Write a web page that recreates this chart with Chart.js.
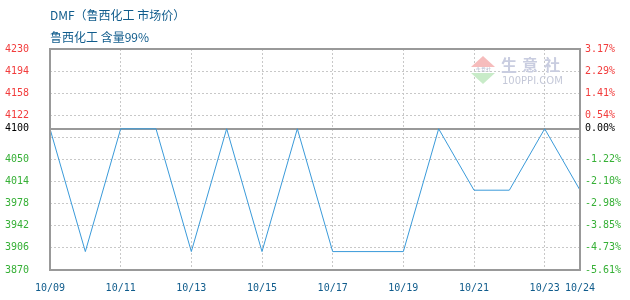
<!DOCTYPE html>
<html>
<head>
<meta charset="utf-8">
<script src="https://cdn.jsdelivr.net/npm/chart.js@4/dist/chart.umd.min.js"></script>
<style>
  html, body { margin: 0; padding: 0; background: #fff; }
  #wrap { width: 630px; height: 300px; position: relative; }
</style>
</head>
<body>
<div id="wrap"><canvas id="priceChart"></canvas></div>
<script>
// data
const dates = ['10/09', '10/10', '10/11', '10/12', '10/13', '10/14', '10/15', '10/16',
               '10/17', '10/18', '10/19', '10/20', '10/21', '10/22', '10/23', '10/24'];
const prices = [4100, 3900, 4100, 4100, 3900, 4100, 3900, 4100,
                3900, 3900, 3900, 4100, 4000, 4000, 4100, 4000];
const shownDates = ['10/09', '10/11', '10/13', '10/15', '10/17', '10/19', '10/21', '10/23', '10/24'];
const gridDates = ['10/11', '10/13', '10/15', '10/17', '10/19', '10/21', '10/23'];
const yTicks = [3870, 3906, 3942, 3978, 4014, 4050, 4086, 4100, 4122, 4158, 4194, 4230];
const hiddenTicks = [4086];
const basePrice = 4100;
const titleLine1 = 'DMF（鲁西化工 市场价）';
const titleLine2 = '鲁西化工 含量99%';

const RED = '#f23c3c';
const GREEN = '#36b036';
const BLUE_TEXT = '#105c8c';
const MONO = '"DejaVu Sans Mono", monospace';

function tickColor(ctx) {
  const v = ctx.tick ? ctx.tick.value : 0;
  if (v > basePrice) return RED;
  if (v < basePrice) return GREEN;
  return '#000';
}

function setTicks(scale) {
  scale.ticks = yTicks.map(v => ({ value: v }));
}

// title, watermark, frame and base line
const decor = {
  id: 'decor',
  beforeDatasetsDraw(chart) {
    const c = chart.ctx;
    const a = chart.chartArea;
    c.save();
    // watermark
    c.fillStyle = '#f6bcbc';
    c.beginPath();
    c.moveTo(483, 56); c.lineTo(495, 67); c.lineTo(471, 67); c.closePath(); c.fill();
    c.fillStyle = '#c8ebc8';
    c.beginPath();
    c.moveTo(471, 73); c.lineTo(495, 73); c.lineTo(483, 84); c.closePath(); c.fill();
    c.fillStyle = '#aab0c8';
    c.font = '5px sans-serif';
    c.textAlign = 'center';
    c.textBaseline = 'middle';
    c.fillText('生意社', 483, 70);
    c.fillStyle = '#c9cde0';
    c.font = 'bold 16px "Noto Sans CJK SC"';
    c.textAlign = 'left';
    c.fillText('生', 501, 65);
    c.fillText('意', 522, 65);
    c.fillText('社', 544, 65);
    c.font = '10px "DejaVu Sans"';
    c.fillStyle = '#c4c8d8';
    c.fillText('100PPI.COM', 502, 81);
    // base line
    const yb = chart.scales.y.getPixelForValue(basePrice);
    c.strokeStyle = '#999';
    c.lineWidth = 2;
    c.beginPath();
    c.moveTo(a.left, Math.round(yb)); c.lineTo(a.right, Math.round(yb));
    c.stroke();
    c.restore();
  },
  afterDraw(chart) {
    const c = chart.ctx;
    const a = chart.chartArea;
    c.save();
    c.strokeStyle = '#999';
    c.lineWidth = 2;
    c.strokeRect(a.left, a.top, a.right - a.left, a.bottom - a.top);
    c.fillStyle = BLUE_TEXT;
    c.font = '12px "Noto Sans CJK SC"';
    c.textAlign = 'left';
    c.textBaseline = 'middle';
    c.fillText(titleLine1, 50, 15);
    c.fillText(titleLine2, 50, 37);
    c.restore();
  }
};

function drawPriceChart() {
  const ctx = document.getElementById('priceChart').getContext('2d');

  new Chart(ctx, {
    type: 'line',
    data: {
      labels: dates,
      datasets: [{
        data: prices,
        borderColor: '#3a9ad9',
        borderWidth: 1,
        pointRadius: 0,
        tension: 0,
        fill: false
      }]
    },
    options: {
      responsive: true,
      maintainAspectRatio: false,
      animation: false,
      events: [],
      layout: { padding: { top: 49, left: 5, right: 0, bottom: 0 } },
      plugins: { legend: { display: false }, tooltip: { enabled: false } },
      scales: {
        x: {
          offset: false,
          afterFit: s => { s.height = 30; },
          border: { display: false, dash: [2, 2] },
          grid: {
            drawTicks: false,
            color: c => (c.tick && gridDates.includes(dates[c.index])) ? '#c8c8c8' : 'transparent'
          },
          ticks: {
            autoSkip: false,
            maxRotation: 0,
            padding: 12,
            color: BLUE_TEXT,
            font: { family: MONO, size: 10 },
            callback: (v, i) => shownDates.includes(dates[i]) ? dates[i] : ''
          }
        },
        y: {
          position: 'left',
          min: 3870,
          max: 4230,
          afterBuildTicks: setTicks,
          afterFit: s => { s.width = 45; },
          border: { display: false, dash: [2, 2] },
          grid: {
            drawTicks: false,
            color: c => {
              const v = c.tick ? c.tick.value : 0;
              if (v === basePrice || v === 3870 || v === 4230) return 'transparent';
              return '#c8c8c8';
            }
          },
          ticks: {
            crossAlign: 'far',
            color: tickColor,
            font: { family: MONO, size: 10 },
            callback: v => hiddenTicks.includes(v) ? '' : String(v)
          }
        },
        y1: {
          position: 'right',
          min: 3870,
          max: 4230,
          afterBuildTicks: setTicks,
          afterFit: s => { s.width = 50; },
          border: { display: false },
          grid: { display: false, drawTicks: false },
          ticks: {
            padding: 5,
            color: tickColor,
            font: { family: MONO, size: 10 },
            callback: v => hiddenTicks.includes(v) ? '' :
              ((v - basePrice) / basePrice * 100).toFixed(2) + '%'
          }
        }
      }
    },
    plugins: [decor]
  });
}

window.onload = drawPriceChart;
</script>
</body>
</html>
